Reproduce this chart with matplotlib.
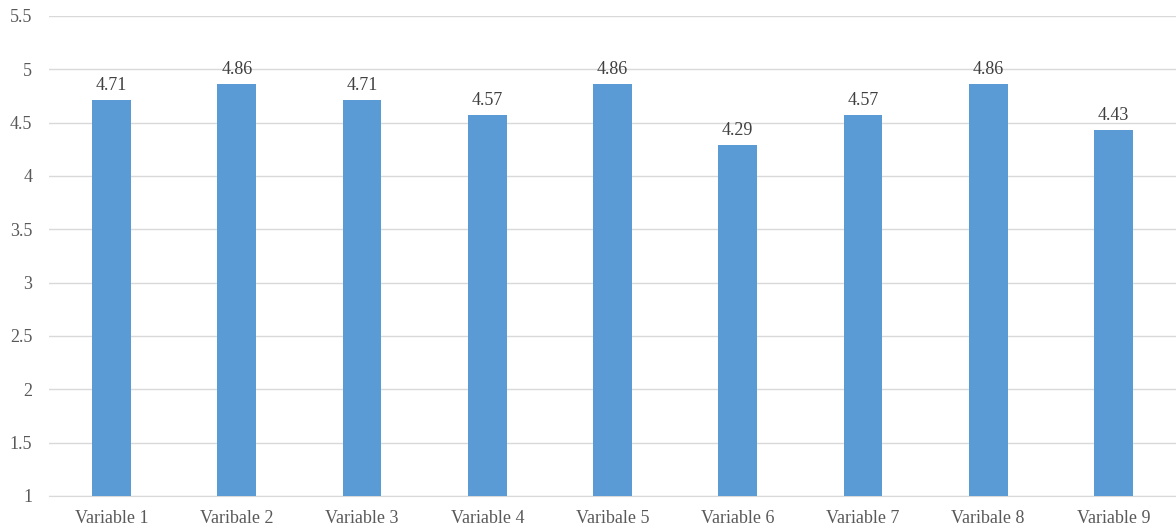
import matplotlib.pyplot as plt
import numpy as np

categories = ['Variable 1', 'Varibale 2', 'Variable 3', 'Variable 4', 'Varibale 5',
              'Variable 6', 'Variable 7', 'Varibale 8', 'Variable 9']
values = [4.71, 4.86, 4.71, 4.57, 4.86, 4.29, 4.57, 4.86, 4.43]
yticks = [1, 1.5, 2, 2.5, 3, 3.5, 4, 4.5, 5, 5.5]
ytick_labels = ['1', '1.5', '2', '2.5', '3', '3.5', '4', '4.5', '5', '5.5']

plt.rcParams['font.family'] = ['Liberation Serif', 'DejaVu Serif']

fig = plt.figure(figsize=(11.76, 5.29), dpi=100)
ax = fig.add_axes([0.0417, 0.0624, 0.9583, 0.9074])

x = np.arange(len(categories))
ax.bar(x, np.array(values) - 1, bottom=1, width=0.31, color='#5B9BD5', zorder=3)

for xi, v in zip(x, values):
    ax.text(xi, v + 0.06, f'{v:.2f}', ha='center', va='bottom',
            fontsize=13, color='#404040')

ax.set_xlim(-0.5, len(categories) - 0.5)
ax.set_ylim(1, 5.5)
ax.set_yticks(yticks)
ax.set_yticklabels(ytick_labels)
ax.set_xticks(x)
ax.set_xticklabels(categories)
ax.tick_params(axis='both', length=0, labelsize=13, labelcolor='#595959')
ax.tick_params(axis='y', pad=12)
ax.tick_params(axis='x', pad=10)

ax.grid(axis='y', color='#D9D9D9', linewidth=1, zorder=0)
for side in ['top', 'right', 'left']:
    ax.spines[side].set_visible(False)
ax.spines['bottom'].set_color('#D9D9D9')

fig.savefig('out.png', dpi=100)
